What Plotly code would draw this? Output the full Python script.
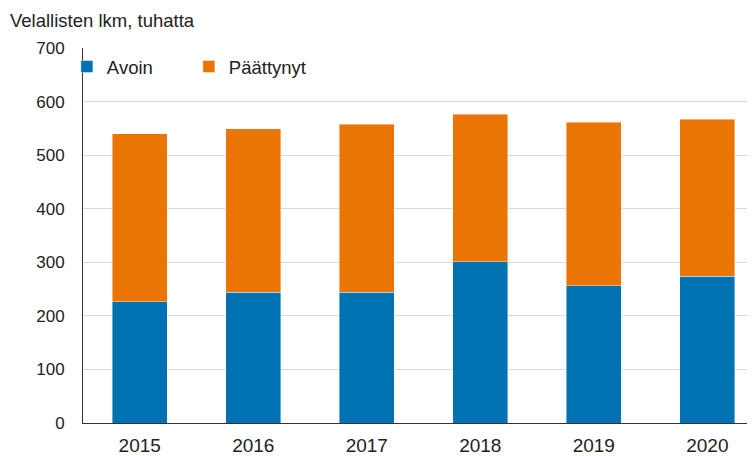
import plotly.graph_objects as go

years = ["2015", "2016", "2017", "2018", "2019", "2020"]
avoin = [226, 244, 244, 301, 256, 274]
paattynyt = [314, 305, 314, 275, 305, 293]
y_ticks = [0, 100, 200, 300, 400, 500, 600, 700]

blue = "#0072B2"
orange = "#EA7404"
font = "Liberation Sans, Arial, sans-serif"
txt = "#222222"

fig = go.Figure()
fig.add_trace(go.Bar(x=years, y=avoin, name="Avoin",
                     marker=dict(color=blue, line=dict(color="rgba(255,255,255,0.6)", width=0.7))))
fig.add_trace(go.Bar(x=years, y=paattynyt, name="Päättynyt",
                     marker=dict(color=orange, line=dict(color="rgba(255,255,255,0.6)", width=0.7))))

fig.update_layout(
    barmode="stack",
    bargap=0.515,
    width=755, height=456,
    margin=dict(l=75, r=8, t=40, b=41),
    paper_bgcolor="white", plot_bgcolor="white",
    font=dict(family=font, size=18, color=txt),
    title=dict(text="Velallisten lkm, tuhatta", x=2/755, xref="container", xanchor="left",
               y=1-13/456, yref="container", yanchor="middle",
               font=dict(family=font, size=18.5, color=txt)),
    legend=dict(orientation="h", x=-0.024, xanchor="left", y=1.0, yanchor="top",
                bgcolor="rgba(0,0,0,0)", font=dict(size=18.5, color=txt), entrywidth=77,
                traceorder="normal"),
    xaxis=dict(range=[-0.5, 5.42], showline=True, linecolor="#333333", linewidth=1,
               ticks="", showgrid=False, tickfont=dict(size=19), ticklabelstandoff=5),
    yaxis=dict(range=[0, 700], tickvals=y_ticks, showline=True, linecolor="#333333", linewidth=1,
               gridcolor="#D9D9D9", gridwidth=1, ticks="", ticklabelstandoff=14,
               tickfont=dict(size=17), zeroline=False),
)

fig.write_html("out.html")
